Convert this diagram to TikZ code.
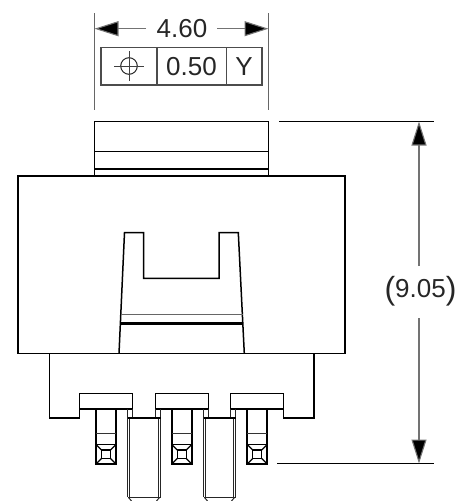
\documentclass[tikz,border=0pt]{standalone}
\usepackage{fontspec}
\setmainfont{Liberation Sans}
\usetikzlibrary{arrows.meta}
\tikzset{
  obj/.style={draw=black,line width=1.5pt,line join=miter},
  thin obj/.style={draw=black!80,line width=0.9pt},
  ext/.style={draw=black!60,line width=1pt},
  extdark/.style={draw=black,line width=0.9pt},
  dimline/.style={draw=black!55,line width=1.1pt},
  head/.style={-{Triangle[length=24pt,width=15pt,fill=black,sep=0pt]}},
  lab/.style={font=\fontsize{26}{26}\selectfont,text=black!85,inner sep=0pt},
  fcf/.style={draw=black!70,line width=1.1pt},
  pinline/.style={draw=black!85,line width=1pt}
}
\newcommand{\lowerpin}[1]{%
  \begin{scope}[xshift=#1pt]
    \draw[obj,line width=1.9pt] (0,409)--(0,464)--(20,464)--(20,409);
    \draw[thin obj] (0,433)--(20,433);
    \draw[obj] (0,444.5)--(20,444.5);
    \draw[obj,line width=2pt] (0,463.5)--(20,463.5);
    \draw[obj,line width=1.2pt] (5.5,450)rectangle(14.5,458.5);
    \draw[obj,line width=1.2pt] (0,444.5)--(5.5,450) (20,444.5)--(14.5,450) (0,464)--(5.5,458.5) (20,464)--(14.5,458.5);
  \end{scope}}
\newcommand{\longpin}[2]{%
  \draw[pinline] (#1,409)--(#1,497) (#2,409)--(#2,497);
  \draw[pinline] (#1+2,418)--(#1+2,497) (#2-2,418)--(#2-2,497);
  \draw[pinline] (#1+5,409)--(#1+5,418) (#2-5,409)--(#2-5,418);
  \draw[obj] (#1,418)--(#2,418);
  \draw[pinline] (#1,497.5)--(#2,497.5);
  \draw[pinline] (#1+1,497.5)--(#1+4,501) (#2-1,497.5)--(#2-4,501);}
\begin{document}
\begin{tikzpicture}[x=1pt,y=-1pt]
\useasboundingbox (0,0) rectangle (459,501);
% upper block
\draw[obj] (94.5,121.5) rectangle (268.5,176);
\draw[obj] (94.5,151.5)--(268.5,151.5);
\draw[obj] (94.5,169)--(268.5,169);
% body
\draw[obj] (18,176) rectangle (345,353.5);
% clip
\draw[obj] (119,353.5)--(124.5,232.5)--(143.7,232.5)--(143.7,278.3)--(219,278.3)--(219,232.5)--(238.3,232.5)--(244.3,353.5);
\draw[thin obj,draw=black!60] (121,314)--(242.5,314);
\draw[obj,line width=2.4pt] (120.3,323.3)--(243,323.3);
% lower body
\draw[obj] (49.3,353.5)--(49.3,418)--(79.3,418)--(79.3,393.7)--(132.7,393.7)--(132.7,418)--(155.3,418)--(155.3,393.7)--(208.3,393.7)--(208.3,418)--(230.7,418)--(230.7,393.7)--(283.3,393.7)--(283.3,418)--(314,418)--(314,353.5);
\foreach \a/\b in {79.3/132.7,155.3/208.3,230.7/283.3}{\draw[obj] (\a,409)--(\b,409);}
\lowerpin{96}
\lowerpin{171.7}
\lowerpin{247.2}
\longpin{127.5}{160.5}
\longpin{203.5}{235.5}
% width dim
\draw[ext] (94.5,13)--(94.5,110);
\draw[ext] (268.5,13)--(268.5,110);
\node[lab] (w) at (182,29) {4.60};
\coordinate (wl) at (94.5,28.7);
\coordinate (wr) at (268.5,28.7);
\draw[dimline,head] (146,28.7)--(wl);
\draw[dimline,head] (217,28.7)--(wr);
% fcf
\draw[fcf] (101,47.5) rectangle (262,85);
\draw[fcf] (157,47.5)--(157,85) (226.5,47.5)--(226.5,85);
\draw[draw=black!85,line width=1pt] (129,66) circle (8.3);
\draw[draw=black!75,line width=1pt] (114,66)--(144,66) (129,51)--(129,81);
\node[lab] (t) at (191.5,66.5) {0.50};
\node[lab] (y) at (244,66.5) {Y};
% height dim
\draw[extdark] (279,121.5)--(434,121.5);
\draw[extdark] (277,463.5)--(434,463.5);
\coordinate (ht) at (419,121.5);
\coordinate (hb) at (419,463.5);
\draw[dimline,head] (419,266)--(ht);
\draw[dimline,head] (419,318)--(hb);
\node[lab] (h) at (420.5,291.5) {\raisebox{-2pt}{\fontsize{32}{32}\selectfont(}9.05\raisebox{-2pt}{\fontsize{32}{32}\selectfont)}};
\end{tikzpicture}
\end{document}
